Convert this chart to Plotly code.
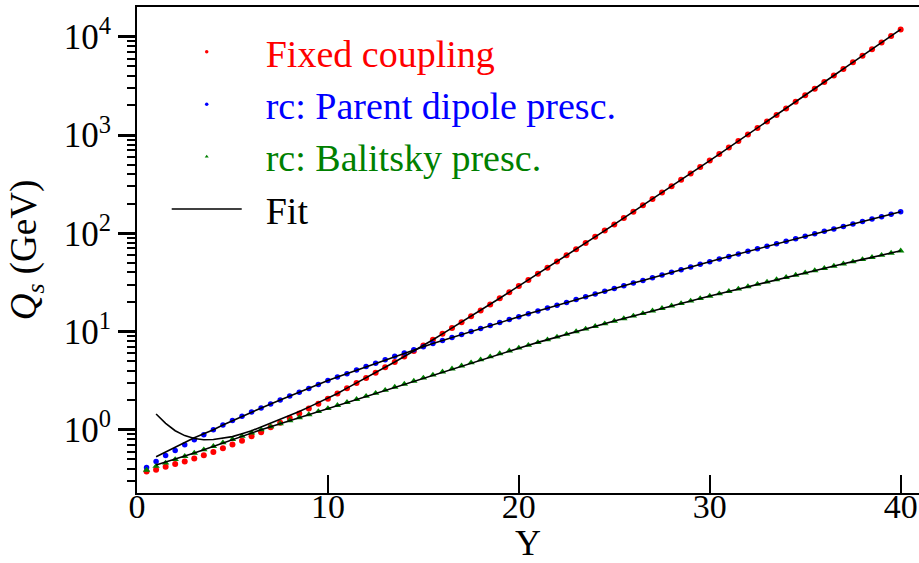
import plotly.graph_objects as go

# Rapidity values of the simulated points
Y_points = [0.5, 1.0, 1.5, 2.0, 2.5, 3.0, 3.5, 4.0, 4.5, 5.0, 5.5, 6.0, 6.5, 7.0, 7.5, 8.0,
            8.5, 9.0, 9.5, 10.0, 10.5, 11.0, 11.5, 12.0, 12.5, 13.0, 13.5, 14.0, 14.5, 15.0,
            15.5, 16.0, 16.5, 17.0, 17.5, 18.0, 18.5, 19.0, 19.5, 20.0, 20.5, 21.0, 21.5, 22.0,
            22.5, 23.0, 23.5, 24.0, 24.5, 25.0, 25.5, 26.0, 26.5, 27.0, 27.5, 28.0, 28.5, 29.0,
            29.5, 30.0, 30.5, 31.0, 31.5, 32.0, 32.5, 33.0, 33.5, 34.0, 34.5, 35.0, 35.5, 36.0,
            36.5, 37.0, 37.5, 38.0, 38.5, 39.0, 39.5, 40.0]

# Q_s (GeV) – fixed coupling
Qs_fixed = [0.376, 0.391, 0.419, 0.447, 0.475, 0.509, 0.550, 0.594, 0.647, 0.706, 0.773, 0.859,
            0.944, 1.057, 1.175, 1.315, 1.462, 1.641, 1.841, 2.070, 2.339, 2.649, 2.985, 3.365,
            3.811, 4.315, 4.887, 5.572, 6.324, 7.211, 8.241, 9.462, 10.84, 12.45, 14.26, 16.37,
            18.88, 21.78, 25.12, 28.97, 33.42, 38.64, 44.57, 51.52, 59.57, 68.87, 79.62, 92.04,
            106.4, 123.0, 142.6, 165.6, 192.3, 223.4, 259.4, 301.3, 349.9, 406.4, 473.2, 549.5,
            639.7, 744.7, 867.0, 1012, 1178, 1374, 1603, 1866, 2178, 2541, 2965, 3459, 4036,
            4710, 5495, 6412, 7482, 8730, 10190, 11890]

# Q_s (GeV) – running coupling, parent dipole prescription
Qs_parent = [0.412, 0.475, 0.547, 0.615, 0.703, 0.791, 0.889, 1.000, 1.119, 1.239, 1.374, 1.514,
             1.667, 1.832, 2.004, 2.203, 2.410, 2.636, 2.891, 3.162, 3.436, 3.724, 4.046, 4.395,
             4.764, 5.164, 5.585, 6.026, 6.501, 6.998, 7.534, 8.091, 8.690, 9.333, 10.02, 10.74,
             11.51, 12.33, 13.21, 14.13, 15.14, 16.18, 17.30, 18.49, 19.77, 21.13, 22.54, 24.04,
             25.64, 27.35, 29.17, 31.12, 33.11, 35.32, 37.58, 39.99, 42.56, 45.29, 48.31, 51.40,
             54.70, 58.07, 61.66, 65.46, 69.50, 73.79, 78.34, 82.99, 87.90, 93.11, 98.63, 104.5,
             110.7, 117.2, 124.2, 131.5, 139.3, 147.6, 156.3, 165.6]

# Q_s (GeV) – running coupling, Balitsky prescription
Qs_balitsky = [0.389, 0.425, 0.459, 0.498, 0.537, 0.579, 0.627, 0.679, 0.738, 0.800, 0.863, 0.931,
               1.000, 1.074, 1.153, 1.239, 1.330, 1.429, 1.535, 1.648, 1.770, 1.901, 2.042, 2.193,
               2.355, 2.529, 2.716, 2.917, 3.133, 3.365, 3.614, 3.882, 4.169, 4.477, 4.808, 5.164,
               5.546, 5.957, 6.368, 6.808, 7.261, 7.745, 8.260, 8.810, 9.376, 9.977, 10.62, 11.30,
               12.02, 12.76, 13.55, 14.39, 15.28, 16.22, 17.22, 18.24, 19.32, 20.46, 21.68, 22.96,
               24.27, 25.64, 27.10, 28.64, 30.27, 31.99, 33.73, 35.56, 37.50, 39.54, 41.69, 43.95,
               46.35, 48.87, 51.40, 54.08, 56.89, 59.84, 62.95, 66.22]

# Fit curves: they start at Y = 1 and differ from the points only at small Y
Y_fit = Y_points[1:]
fit_fixed_low = [1.445, 1.161, 0.977, 0.871, 0.813, 0.791, 0.794, 0.817, 0.851, 0.912, 0.977,
                 1.067, 1.164, 1.271, 1.393, 1.535, 1.698, 1.884, 2.099]   # Y = 1 .. 10
fit_parent_low = [0.531, 0.596, 0.668, 0.745, 0.828, 0.912, 1.000]            # Y = 1 .. 4
fit_balitsky_low = [0.437, 0.468, 0.504]                                       # Y = 1 .. 2
fit_fixed = fit_fixed_low + Qs_fixed[20:]
fit_parent = fit_parent_low + Qs_parent[8:]
fit_balitsky = fit_balitsky_low + Qs_balitsky[4:]

# Axis tick labels
x_ticks = [0, 10, 20, 30, 40]
y_ticks = [1, 10, 100, 1000, 10000]
y_ticktext = ["10<sup>0</sup>", "10<sup>1</sup>", "10<sup>2</sup>", "10<sup>3</sup>", "10<sup>4</sup>"]
y_minor = [0.3, 0.4, 0.5, 0.6, 0.7, 0.8, 0.9,
           2, 3, 4, 5, 6, 7, 8, 9,
           20, 30, 40, 50, 60, 70, 80, 90,
           200, 300, 400, 500, 600, 700, 800, 900,
           2000, 3000, 4000, 5000, 6000, 7000, 8000, 9000]

RED, BLUE, GREEN = "#ff0000", "#0000ff", "#008000"
FONT = "Liberation Serif"
GAP = "\u00a0\u00a0"

fig = go.Figure()

# data points
fig.add_trace(go.Scatter(x=Y_points, y=Qs_fixed, mode="markers", showlegend=False,
                         marker=dict(symbol="circle", size=6, color=RED)))
fig.add_trace(go.Scatter(x=Y_points, y=Qs_parent, mode="markers", showlegend=False,
                         marker=dict(symbol="circle", size=5.5, color=BLUE)))
fig.add_trace(go.Scatter(x=Y_points, y=Qs_balitsky, mode="markers", showlegend=False,
                         marker=dict(symbol="triangle-up", size=6.5, color=GREEN)))

# fits
fit_line = dict(color="black", width=1.6)
fig.add_trace(go.Scatter(x=Y_fit, y=fit_fixed, mode="lines", line=fit_line, showlegend=False))
fig.add_trace(go.Scatter(x=Y_fit, y=fit_parent, mode="lines", line=fit_line, showlegend=False))
fig.add_trace(go.Scatter(x=Y_fit, y=fit_balitsky, mode="lines", line=fit_line, showlegend=False))

# legend entries
legend_items = [
    ("Fixed coupling", RED, "circle"),
    ("rc: Parent dipole presc.", BLUE, "circle"),
    ("rc: Balitsky presc.", GREEN, "triangle-up"),
]
for i, (name, col, sym) in enumerate(legend_items):
    fig.add_trace(go.Scatter(x=[None], y=[None], mode="markers",
                             name=f'{GAP}<span style="color:{col}">{name}</span>',
                             legendgroup=f"g{i}",
                             marker=dict(symbol=sym, size=3.5, color=col)))
fig.add_trace(go.Scatter(x=[None], y=[None], mode="lines", name=f"{GAP}Fit", legendgroup="g3",
                         line=dict(color="black", width=1.6)))

fig.update_layout(
    width=919, height=563,
    margin=dict(l=137, r=0, t=7, b=70),
    paper_bgcolor="white", plot_bgcolor="white",
    font=dict(family=FONT, color="black"),
    showlegend=True,
    legend=dict(x=0.038, y=0.972, xanchor="left", yanchor="top",
                bgcolor="rgba(0,0,0,0)", borderwidth=0,
                font=dict(family=FONT, size=38, color="black"),
                itemwidth=70, tracegroupgap=14, traceorder="normal",
                itemsizing="trace"),
    xaxis=dict(range=[0, 40.96], tickvals=x_ticks, ticktext=[str(v) for v in x_ticks],
               ticks="inside", ticklen=18, tickwidth=2, tickcolor="black",
               showline=True, linecolor="black", linewidth=2, mirror=True,
               showgrid=False, zeroline=False, automargin=False,
               tickfont=dict(family=FONT, size=34), ticklabelstandoff=-18,
               title=dict(text="Y", font=dict(family=FONT, size=36), standoff=8)),
    yaxis=dict(type="log", range=[-0.644, 4.303], tickvals=y_ticks, ticktext=y_ticktext,
               ticks="outside", ticklen=17, tickwidth=2.5, tickcolor="black",
               minor=dict(tickvals=y_minor, ticks="outside", ticklen=8, tickwidth=2,
                          tickcolor="black", showgrid=False),
               showline=True, linecolor="black", linewidth=2, mirror=False,
               showgrid=False, zeroline=False, automargin=False,
               tickfont=dict(family=FONT, size=35),
               title=dict(text="<i>Q</i><sub><i>s</i></sub> (GeV)",
                          font=dict(family=FONT, size=37), standoff=16)),
)

fig.write_html("out.html", config={"displayModeBar": False},
               post_script="document.body.style.margin='0';document.body.style.overflow='hidden';")
